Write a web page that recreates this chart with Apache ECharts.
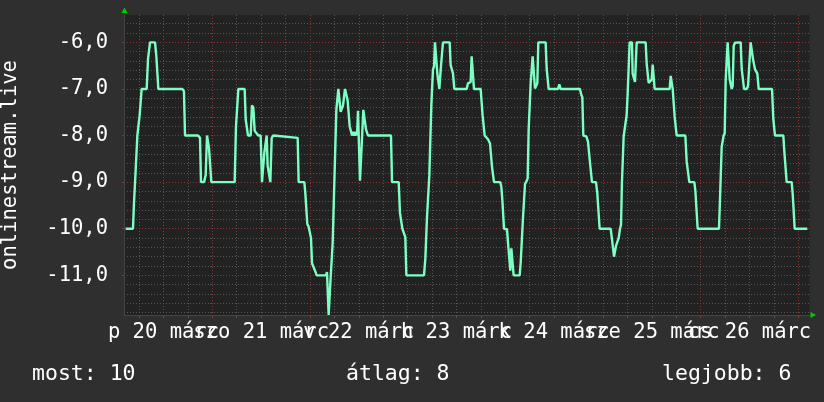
<!DOCTYPE html>
<html><head><meta charset="utf-8">
<script src="https://cdn.jsdelivr.net/npm/echarts@6/dist/echarts.min.js"></script>
<style>html,body{margin:0;padding:0;background:#2f2f2f;}#c{width:824px;height:402px;}</style>
</head><body><div id="c"></div>
<script>
// hours relative to 21 márc 00:00
const hours = [
-21.29,-19.49,-19.24,-18.83,-18.42,-17.85,-17.36,-16.13,-15.80,-15.31,-14.08,-13.75,-13.26,-7.37,-6.96,-6.71,-3.52,-3.02,-2.78,-2.04,-1.63,-1.30,-0.98,-0.81,-0.49,-0.24,
5.49,5.82,5.99,6.40,7.95,8.20,8.52,8.77,9.43,9.75,10.08,10.41,10.90,11.31,11.88,12.21,12.54,12.78,13.36,13.60,13.93,14.26,14.59,15.00,
20.98,21.22,22.61,22.86,23.19,23.35,23.68,23.93,24.25,24.50,24.83,25.24,25.65,27.94,28.18,28.43,28.59,28.92,29.09,29.33,29.58,29.82,30.07,30.23,30.48,30.72,30.97,31.30,31.54,31.87,32.12,32.36,32.61,33.02,33.26,33.51,33.75,34.08,34.33,34.66,34.98,35.31,35.56,35.80,36.05,36.29,36.54,36.79,37.11,37.52,37.77,38.01,38.26,
43.91,44.16,45.80,46.12,46.45,46.70,47.10,47.43,47.68,52.02,52.35,52.59,52.76,53.09,53.33,53.58,53.82,54.07,54.23,54.48,54.72,55.05,55.30,55.54,55.79,55.95,56.20,56.44,56.69,58.33,58.57,58.90,59.15,59.47,62.51,62.83,
63.49,63.73,64.06,64.30,65.94,66.27,66.43,66.68,66.93,67.42,67.74,68.24,68.48,68.73,68.97,69.22,70.78,71.02,71.27,71.51,71.68,72.41,72.74,72.99,73.23,73.48,73.72,74.05,75.53,75.77,76.10,76.35,76.59,76.84,77.16,77.49,77.74,77.98,78.23,78.47,78.72,79.05,79.29,79.62,79.87,80.11,81.91,82.16,82.49,82.65,84.95,85.27,85.60,
90.35,90.68,90.93,91.17,91.91,92.32,92.56,92.81,93.05,93.30,94.28,94.61,94.86,95.18,97.89,98.22,98.46,98.71,98.95,99.20,99.53,99.85,100.18,100.43,100.67,100.92,101.08,101.57,101.82,102.07,102.31,102.56,103.13,103.29,103.62,103.87,104.11,104.28,
106.49,106.74,106.98,107.23,107.72,107.97,108.21,108.46,108.70,112.39,112.64,112.88,113.13,113.37,113.62,113.86,114.11,116.24,116.57,116.90,117.22,118.45,118.70,119.02,119.27,
124.51,124.76,125.00,125.17,125.41,125.66,125.91,126.15,126.40,126.64,126.89,127.13,127.38,127.63,127.87,128.12,128.44,128.69,129.84,130.08,130.41,130.66,131.31,131.64,131.97,132.29,132.62,132.87,133.11,133.36,133.69,133.93,134.26,
137.54,137.86,138.11,138.27,140.32,140.57,140.90,141.14,142.37,142.62,142.86,143.11,146.22
];
const values = [
-10.0,-10.0,-9.44,-8.74,-8.0,-7.56,-7.0,-7.0,-6.36,-6.0,-6.0,-6.3,-7.0,-7.0,-7.05,-8.0,-8.0,-8.05,-9.0,-9.0,-8.85,-8.0,-8.0,-8.27,-8.27,-9.0,
-9.0,-7.8,-7.8,-7.0,-7.0,-7.65,-7.65,-8.0,-8.0,-7.35,-7.4,-7.9,-7.92,-8.0,-8.0,-9.0,-9.0,-8.37,-8.0,-8.65,-8.65,-9.0,-8.05,-8.0,
-8.05,-9.0,-9.0,-9.24,-9.28,-9.9,-9.96,-10.0,-10.2,-10.74,-10.78,-10.9,-11.0,-11.0,-10.93,-10.95,-11.85,-11.85,-11.03,-11.0,-10.3,-10.26,-8.74,-8.73,-7.45,-7.44,-7.0,-7.0,-7.49,-7.49,-7.35,-7.35,-7.0,-7.0,-7.25,-7.27,-7.8,-7.84,-8.0,-7.92,-8.0,-7.92,-8.0,-7.47,-7.47,-8.97,-8.52,-8.5,-7.45,-7.45,-7.87,-7.9,-8.0,
-8.0,-9.0,-9.0,-9.66,-9.69,-10.0,-10.03,-10.18,-11.0,-11.0,-10.64,-10.62,-9.75,-9.74,-8.85,-8.81,-7.35,-7.31,-6.58,-6.52,-6.0,-6.0,-6.67,-6.7,-7.0,-7.0,-6.5,-6.25,-6.0,-6.0,-6.49,-6.52,-6.67,-7.0,-7.0,-6.88,
-6.85,-6.3,-6.3,-7.0,-7.0,-7.04,-7.58,-7.61,-8.0,-8.02,-8.08,-8.17,-8.2,-8.67,-8.7,-9.0,-9.0,-9.1,-9.38,-9.4,-10.0,-10.01,-10.38,-10.42,-10.9,-10.42,-10.42,-11.0,-11.0,-10.74,-10.72,-9.76,-9.74,-9.04,-8.99,-8.92,-7.87,-7.85,-6.88,-6.85,-6.3,-6.3,-6.99,-6.97,-6.88,-6.0,-6.0,-6.56,-6.58,-7.0,-7.0,-6.9,-7.0,
-7.0,-7.13,-7.18,-8.0,-8.02,-8.13,-8.16,-8.58,-8.6,-9.0,-9.0,-9.24,-9.28,-10.0,-10.0,-10.23,-10.23,-10.6,-10.6,-10.37,-10.28,-10.2,-10.0,-9.92,-8.99,-8.97,-8.02,-8.0,-7.56,-7.09,-7.06,-6.0,-6.0,-6.67,-6.67,-6.85,-6.81,-6.0,
-6.0,-6.46,-6.48,-6.87,-6.85,-6.8,-6.48,-6.48,-7.0,-7.0,-6.72,-6.72,-7.0,-7.02,-7.6,-7.61,-8.0,-8.0,-8.56,-8.58,-9.0,-9.0,-9.18,-9.2,-10.0,
-10.0,-9.35,-9.35,-8.24,-8.2,-8.0,-7.95,-6.81,-6.78,-6.0,-6.0,-6.79,-6.77,-7.0,-6.94,-6.08,-6.01,-6.0,-6.0,-6.56,-6.58,-7.0,-7.0,-6.94,-6.92,-6.0,-6.01,-6.36,-6.38,-6.58,-6.6,-6.67,-7.0,
-7.0,-7.65,-7.68,-8.0,-8.0,-8.35,-8.37,-9.0,-9.0,-9.25,-9.28,-10.0,-10.0
];
const dayLabels = ['p 20 márc','szo 21 márc','v 22 márc','h 23 márc','k 24 márc','sze 25 márc','cs 26 márc'];
const yMajorTicks = [-11,-10,-9,-8,-7,-6];
const legendTexts = ['most: 10','átlag: 8','legjobb: 6'];
const seriesName = 'onlinestream.live';

const FONT = 'DejaVu Sans Mono';
const FS = 20.5;
const LFS = 21.5;
const TXT = '#ffffff';
const RED = '#8a3434';
const GRAY = '#555555';
const X_MIN = -21.70, X_MAX = 146.75, Y_MIN = -11.851, Y_MAX = -5.4135;

const midnights = [], sixHours = [], noonsEven = [], noonsOdd = [];
for (let h = -18; h <= 144; h += 6) {
  if (h % 24 === 0) midnights.push(h); else sixHours.push(h);
}
for (let i = 0; i < dayLabels.length; i++) (i % 2 === 0 ? noonsEven : noonsOdd).push(-12 + 24 * i);
const yMinor = [];
for (let k = -59; k <= -28; k++) { if (k % 5 !== 0) yMinor.push(Math.round(k * 20) / 100); }

const chart = echarts.init(document.getElementById('c'), null, {renderer: 'canvas'});
const dashed = (c) => ({color: c, width: 1, type: [1, 2]});
const dayLabel = (v) => dayLabels[Math.round((v + 12) / 24)] || '';
const xLabelBase = {show: true, margin: 7, color: TXT, fontFamily: FONT, fontSize: FS, hideOverlap: false, formatter: dayLabel};
chart.setOption({
  backgroundColor: '#2f2f2f',
  animation: false,
  grid: {left: 124, right: 14.5, top: 15, bottom: 87, show: true, backgroundColor: '#222222', borderWidth: 0,
    containLabel: false, outerBoundsMode: 'none'},
  xAxis: [{
    type: 'value', min: X_MIN, max: X_MAX, z: 2,
    axisLine: {show: true, onZero: false, lineStyle: {color: '#454545', width: 1}},
    axisTick: {show: true, customValues: midnights, length: 3, lineStyle: {color: RED}},
    axisLabel: Object.assign({customValues: noonsEven}, xLabelBase),
    splitLine: {show: true, lineStyle: dashed(RED)}
  }, {
    type: 'value', min: X_MIN, max: X_MAX, position: 'bottom', offset: 0, z: 1,
    axisLine: {show: false},
    axisTick: {show: true, customValues: sixHours, length: 3, lineStyle: {color: GRAY}},
    axisLabel: Object.assign({customValues: noonsOdd}, xLabelBase),
    splitLine: {show: true, lineStyle: dashed(GRAY)}
  }],
  yAxis: [{
    type: 'value', min: Y_MIN, max: Y_MAX, z: 2,
    axisLine: {show: true, onZero: false, lineStyle: {color: '#454545', width: 1}},
    axisTick: {show: true, customValues: yMajorTicks, length: 2, lineStyle: {color: RED}},
    axisLabel: {show: true, customValues: yMajorTicks, margin: 16, color: TXT, fontFamily: FONT, fontSize: FS,
      showMinLabel: true, showMaxLabel: true,
      formatter: (v) => v.toFixed(1).replace('.', ',')},
    splitLine: {show: true, lineStyle: dashed(RED)},
    name: seriesName, nameLocation: 'middle', nameRotate: 90, nameGap: 103,
    nameTextStyle: {color: TXT, fontFamily: FONT, fontSize: FS}
  }, {
    type: 'value', min: Y_MIN, max: Y_MAX, position: 'left', z: 1,
    axisLine: {show: false},
    axisTick: {show: true, customValues: yMinor, length: 2, lineStyle: {color: GRAY}},
    axisLabel: {show: false},
    splitLine: {show: true, lineStyle: dashed(GRAY)}
  }],
  series: [{
    name: seriesName, type: 'line', xAxisIndex: 0, yAxisIndex: 0, z: 5,
    data: hours.map((h, i) => [h, values[i]]),
    showSymbol: false, symbol: 'none', clip: true,
    lineStyle: {color: '#7dffc4', width: 2.4}
  }],
  graphic: [
    {type: 'polygon', shape: {points: [[121.5, 13], [127.5, 13], [124.5, 7.5]]}, style: {fill: '#00cc00'}},
    {type: 'polygon', shape: {points: [[810.5, 312], [810.5, 318], [816, 315]]}, style: {fill: '#00cc00'}},
    {type: 'text', left: 32, top: 363, style: {text: legendTexts[0], fill: TXT, font: LFS + 'px "DejaVu Sans Mono"'}},
    {type: 'text', left: 346, top: 363, style: {text: legendTexts[1], fill: TXT, font: LFS + 'px "DejaVu Sans Mono"'}},
    {type: 'text', left: 662, top: 363, style: {text: legendTexts[2], fill: TXT, font: LFS + 'px "DejaVu Sans Mono"'}}
  ]
});
</script></body></html>
